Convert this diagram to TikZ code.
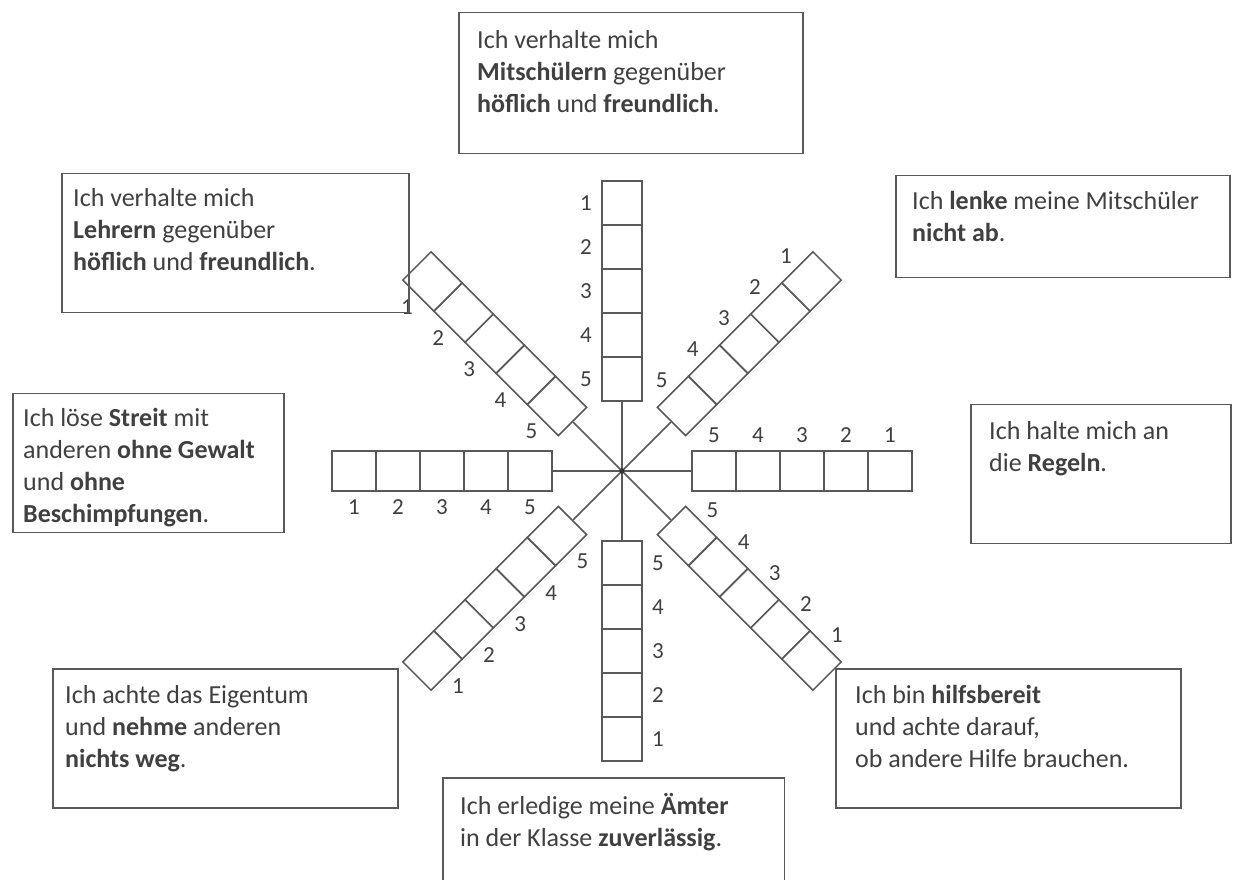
\documentclass[tikz,border=0pt]{standalone}
\usepackage{fontspec}
\setmainfont{Carlito}
\usetikzlibrary{calc}

\tikzset{
    linie/.style={draw=black!65, line width=1.5pt},
    rahmen/.style={linie, anchor=north west, inner sep=0pt},
    satz/.style={anchor=north west, inner sep=0pt, align=left, text=black!75, font=\fontsize{26}{32}\selectfont},
    kaestchen/.style={linie, minimum width=44pt, minimum height=40pt, inner sep=0pt},
    ziffer/.style={text=black!75, inner sep=0pt, font=\fontsize{23}{28}\selectfont},
}

\begin{document}
\begin{tikzpicture}[x=1pt, y=1pt]
    \useasboundingbox (0,0) rectangle (1234,879);
    \fill[white] (0,0) rectangle (1234,879);

    \coordinate (M) at (622,408);

    % Strahlen mit je 5 Kaestchen
    \foreach \a in {90,45,0,-45,-90,-135,180,135}{
        \foreach \i in {1,...,5}{
            \node[kaestchen, rotate=\a] (k\a-\i) at ($(M)+({\a}:{70+(5.5-\i)*44})$) {};
            \node[ziffer] (z\a-\i) at ($(k\a-\i)+({\a+90}:36)$) {\i};
        }
        \draw[linie] (M) -- (k\a-5);
    }
    \fill[black!80] (M) circle (2.5pt);

    % Aussagen
    \node[rahmen, minimum width=344pt, minimum height=141pt] (oben) at (458,867) {};
    \node[satz] (oben-t) at (477,849) {Ich verhalte mich\\ \textbf{Mitschülern} gegenüber\\ \textbf{höflich} und \textbf{freundlich}.};

    \node[rahmen, minimum width=347pt, minimum height=139pt] (lehrer) at (61,706) {};
    \node[satz] (lehrer-t) at (73,691) {Ich verhalte mich\\ \textbf{Lehrern} gegenüber\\ \textbf{höflich} und \textbf{freundlich}.};

    \node[rahmen, minimum width=334pt, minimum height=102pt] (lenken) at (895,704) {};
    \node[satz] (lenken-t) at (912,688) {Ich \textbf{lenke} meine Mitschüler\\ \textbf{nicht ab}.};

    \node[rahmen, minimum width=260pt, minimum height=139pt] (regeln) at (970,475) {};
    \node[satz] (regeln-t) at (989,458) {Ich halte mich an\\ die \textbf{Regeln}.};

    \node[rahmen, minimum width=271pt, minimum height=139pt] (streit) at (12,486) {};
    \node[satz] (streit-t) at (23,471) {Ich löse \textbf{Streit} mit\\ anderen \textbf{ohne Gewalt}\\ und \textbf{ohne}\\ \textbf{Beschimpfungen}.};

    \node[rahmen, minimum width=345pt, minimum height=139pt] (eigentum) at (52,211) {};
    \node[satz] (eigentum-t) at (65,194) {Ich achte das Eigentum\\ und \textbf{nehme} anderen\\ \textbf{nichts weg}.};

    \node[rahmen, minimum width=345pt, minimum height=139pt] (hilfe) at (835,211) {};
    \node[satz] (hilfe-t) at (855,194) {Ich bin \textbf{hilfsbereit}\\ und achte darauf,\\ ob andere Hilfe brauchen.};

    \node[rahmen, draw=none, minimum width=340pt, minimum height=110pt] (aemter) at (443,101) {};
    \draw[linie] (aemter.south west) -- (aemter.north west) -- (aemter.north east) -- (aemter.south east);
    \node[satz] (aemter-t) at (460,86) {Ich erledige meine \textbf{Ämter}\\ in der Klasse \textbf{zuverlässig}.};
\end{tikzpicture}
\end{document}
